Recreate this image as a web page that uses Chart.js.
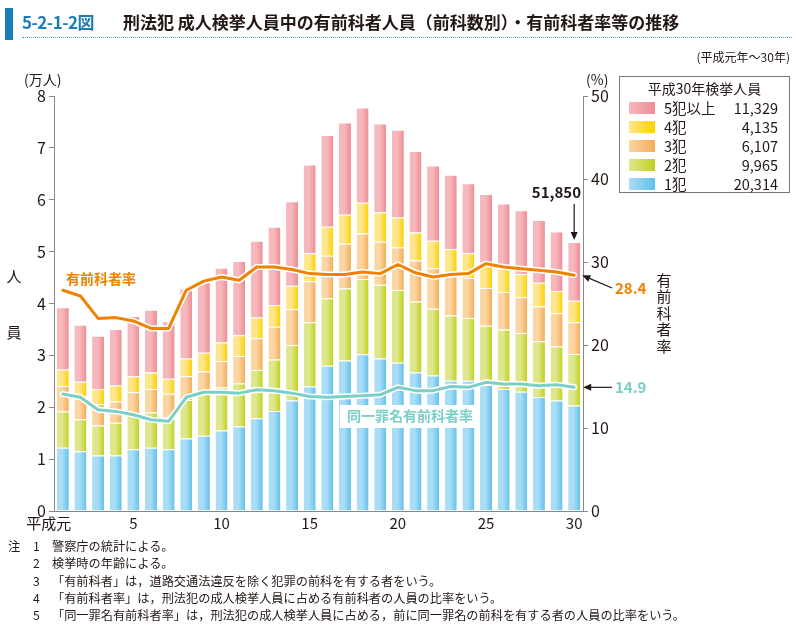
<!DOCTYPE html>
<html>
<head>
<meta charset="utf-8">
<script src="https://cdn.jsdelivr.net/npm/chart.js@4/dist/chart.umd.min.js"></script>
<style>
  body { margin: 0; background: #fff; font-family: "Noto Sans CJK JP", sans-serif; color: #231815; }
  #wrap { position: relative; width: 796px; height: 626px; overflow: hidden; }
  #c { position: absolute; left: 0; top: 0; }
  .abs { position: absolute; white-space: nowrap; }
  #bar { left: 5px; top: 8px; width: 8px; height: 32px; background: #1b7cb8; }
  #fig { left: 22px; top: 9px; font-size: 17px; font-weight: bold; color: #1b7cb8; letter-spacing: -0.5px; }
  #ttl { left: 123px; top: 9px; font-size: 17px; font-weight: bold; }
  #dots { left: 22px; top: 37px; width: 770px; border-top: 1px dotted #4aa3d4; }
  #period { right: 6px; top: 48px; font-size: 12px; }
  #legend { left: 619px; top: 76px; width: 169px; height: 115px; border: 1px solid #777; background: #fff; font-size: 14.5px; }
  #legend .t { position: absolute; left: 0; width: 169px; top: 1px; text-align: center; font-size: 14px; }
  #legend .row { position: absolute; left: 0; width: 169px; height: 20px; line-height: 20px; }
  #legend .sw { position: absolute; left: 9px; top: 4px; width: 26px; height: 12px; }
  #legend .lb { position: absolute; left: 44px; top: 0; }
  #legend .v { position: absolute; right: 11px; top: 0; }
  #notes { left: 8px; top: 538px; font-size: 12.2px; line-height: 17.3px; }
  #notes div { position: relative; padding-left: 44px; }
  #notes .n { position: absolute; left: 25px; }
  #notes .h { position: absolute; left: 0; }
</style>
</head>
<body>
<div id="wrap">
  <canvas id="c" width="796" height="626"></canvas>
  <div class="abs" id="bar"></div>
  <div class="abs" id="fig">5-2-1-2図</div>
  <div class="abs" id="ttl">刑法犯 成人検挙人員中の有前科者人員（前科数別）・有前科者率等の推移</div>
  <div class="abs" id="dots"></div>
  <div class="abs" id="period">(平成元年～30年)</div>
  <div class="abs" id="legend"></div>
  <div class="abs" id="notes">
    <div><span class="h">注</span><span class="n">1</span>警察庁の統計による。</div>
    <div><span class="n">2</span>検挙時の年齢による。</div>
    <div><span class="n">3</span>「有前科者」は，道路交通法違反を除く犯罪の前科を有する者をいう。</div>
    <div><span class="n">4</span>「有前科者率」は，刑法犯の成人検挙人員に占める有前科者の人員の比率をいう。</div>
    <div><span class="n">5</span>「同一罪名有前科者率」は，刑法犯の成人検挙人員に占める，前に同一罪名の前科を有する者の人員の比率をいう。</div>
  </div>
</div>
<script>
// 平成元年～30年
const years = ['平成元','2','3','4','5','6','7','8','9','10','11','12','13','14','15','16','17','18','19','20','21','22','23','24','25','26','27','28','29','30'];
const tickYears = ['平成元','5','10','15','20','25','30'];

// 前科数別 有前科者人員 (万人)
const zenka1 = [1.22,1.15,1.07,1.07,1.19,1.22,1.19,1.40,1.45,1.55,1.63,1.79,1.93,2.13,2.40,2.80,2.90,3.02,2.94,2.86,2.67,2.61,2.51,2.51,2.43,2.35,2.30,2.20,2.13,2.0314];
const zenka2 = [0.70,0.62,0.58,0.63,0.69,0.68,0.62,0.74,0.85,0.83,0.83,0.93,0.99,1.07,1.24,1.30,1.39,1.45,1.42,1.40,1.37,1.29,1.26,1.21,1.14,1.15,1.13,1.07,1.04,0.9965];
const zenka3 = [0.49,0.44,0.41,0.41,0.41,0.45,0.45,0.46,0.39,0.51,0.53,0.61,0.63,0.69,0.79,0.82,0.86,0.88,0.83,0.82,0.79,0.78,0.75,0.77,0.73,0.72,0.69,0.67,0.64,0.6107];
const zenka4 = [0.32,0.28,0.29,0.31,0.31,0.32,0.29,0.34,0.36,0.36,0.40,0.40,0.42,0.45,0.54,0.56,0.56,0.59,0.57,0.58,0.54,0.53,0.53,0.48,0.49,0.45,0.45,0.46,0.43,0.4135];
const zenka5 = [1.20,1.10,1.03,1.09,1.16,1.21,1.11,1.35,1.36,1.44,1.43,1.48,1.51,1.63,1.71,1.77,1.78,1.84,1.71,1.69,1.57,1.45,1.43,1.35,1.32,1.26,1.23,1.21,1.15,1.1329];

// 率 (%)
const yuzenkaRate = [26.6,25.9,23.2,23.3,22.9,22.0,22.0,26.6,27.7,28.2,27.8,29.4,29.4,29.1,28.6,28.5,28.5,28.8,28.6,29.7,28.7,28.2,28.5,28.6,29.8,29.4,29.2,29.0,28.8,28.4];
const douitsuRate = [14.1,13.7,12.2,12.0,11.6,11.0,10.8,13.7,14.3,14.3,14.2,14.6,14.5,14.2,13.8,13.7,13.8,13.9,14.0,14.9,14.5,14.5,15.0,14.9,15.5,15.3,15.3,15.1,15.2,14.9];

// 平成30年検挙人員 (凡例)
const legendNames = ['5犯以上','4犯','3犯','2犯','1犯'];
const legendValues = ['11,329','4,135','6,107','9,965','20,314'];
const total30 = '51,850';

const cols = {
  k1: ['#a9dcf5', '#62c1ec'],
  k2: ['#dfe68e', '#c0d11c'],
  k3: ['#fbd6a3', '#f4ac58'],
  k4: ['#ffe68c', '#fbd100'],
  k5: ['#f6b8bc', '#ee8c95']
};
const orange = '#ef8200';
const teal = '#7ccfc6';

// 凡例
const lg = document.getElementById('legend');
lg.innerHTML = '<div class="t">平成30年検挙人員</div>';
const lgCols = [cols.k5, cols.k4, cols.k3, cols.k2, cols.k1];
legendNames.forEach((n, i) => {
  const r = document.createElement('div');
  r.className = 'row';
  r.style.top = (21 + i * 19) + 'px';
  r.innerHTML = '<div class="sw" style="background:linear-gradient(to right,' + lgCols[i][0] + ',' + lgCols[i][1] + ')"></div>' +
    '<span class="lb">' + n + '</span><span class="v">' + legendValues[i] + '</span>';
  lg.appendChild(r);
});

function grad(c) {
  return (ctx) => {
    const chart = ctx.chart;
    const x = chart.scales.x;
    if (!x || !chart.chartArea || ctx.dataIndex === undefined) return c[1];
    const cx = x.getPixelForValue(ctx.dataIndex);
    const g = chart.ctx.createLinearGradient(cx - 6, 0, cx + 6, 0);
    g.addColorStop(0, c[0]);
    g.addColorStop(0.45, c[0]);
    g.addColorStop(1, c[1]);
    return g;
  };
}

function barSet(label, data, c) {
  return {
    type: 'bar', label: label, data: data, yAxisID: 'y', stack: 's', order: 3,
    backgroundColor: grad(c), borderColor: '#ffffff', borderWidth: {top: 1}, borderSkipped: 'bottom',
    categoryPercentage: 1, barPercentage: 0.68
  };
}

function lineSet(label, data, color, width, order) {
  return {
    type: 'line', label: label, data: data, yAxisID: 'y1', order: order,
    borderColor: color, borderWidth: width, pointRadius: 0, tension: 0, fill: false,
    borderJoinStyle: 'round', borderCapStyle: 'round'
  };
}

function arrow(c, x1, y1, x2, y2) {
  const a = Math.atan2(y2 - y1, x2 - x1);
  c.strokeStyle = '#231815';
  c.fillStyle = '#231815';
  c.lineWidth = 1.2;
  c.beginPath();
  c.moveTo(x1, y1);
  c.lineTo(x2 - 6 * Math.cos(a), y2 - 6 * Math.sin(a));
  c.stroke();
  c.beginPath();
  c.moveTo(x2, y2);
  c.lineTo(x2 - 8 * Math.cos(a) + 3.5 * Math.sin(a), y2 - 8 * Math.sin(a) - 3.5 * Math.cos(a));
  c.lineTo(x2 - 8 * Math.cos(a) - 3.5 * Math.sin(a), y2 - 8 * Math.sin(a) + 3.5 * Math.cos(a));
  c.closePath();
  c.fill();
}

const annotations = {
  id: 'annotations',
  afterDraw(chart) {
    const c = chart.ctx;
    const x = chart.scales.x, y = chart.scales.y, y1 = chart.scales.y1;
    const font = '"Noto Sans CJK JP", sans-serif';
    c.save();
    c.textBaseline = 'middle';

    // x軸ラベル
    c.font = '15px ' + font;
    c.fillStyle = '#231815';
    c.textAlign = 'center';
    tickYears.forEach((t) => {
      const i = years.indexOf(t);
      let px = x.getPixelForValue(i);
      if (i === 0) px -= 14;
      c.fillText(t, px, 523);
    });

    // 単位
    c.font = '14px ' + font;
    c.textAlign = 'left';
    c.fillText('(万人)', 24, 80);
    c.fillText('(%)', 586, 80);
    c.font = '15px ' + font;
    c.textAlign = 'center';
    c.fillText('人', 14, 276);
    c.fillText('員', 14, 332);
    '有前科者率'.split('').forEach((ch, i) => c.fillText(ch, 664, 280 + i * 16.5));

    // 系列ラベル
    c.font = 'bold 14px ' + font;
    c.fillStyle = orange;
    c.textAlign = 'left';
    c.fillText('有前科者率', 66, 279);

    c.fillStyle = '#ffffff';
    c.fillRect(340, 405, 140, 23);
    c.fillStyle = teal;
    c.textAlign = 'center';
    c.fillText('同一罪名有前科者率', 410, 416);

    // 平成30年の注記
    const last = years.length - 1;
    const lx = x.getPixelForValue(last);
    const tot = zenka1[last] + zenka2[last] + zenka3[last] + zenka4[last] + zenka5[last];
    c.font = 'bold 15px ' + font;
    c.fillStyle = '#231815';
    c.textAlign = 'right';
    c.fillText(total30, 581, 192);
    arrow(c, lx, 204, lx, y.getPixelForValue(tot) - 2);

    const yo = y1.getPixelForValue(yuzenkaRate[last]);
    arrow(c, 612, 288, lx + 8, yo);
    c.fillStyle = orange;
    c.textAlign = 'left';
    c.fillText(String(yuzenkaRate[last]), 615, 288);

    const yt = y1.getPixelForValue(douitsuRate[last]);
    arrow(c, 612, yt, lx + 9, yt);
    c.fillStyle = teal;
    c.fillText(String(douitsuRate[last]), 615, yt);
    c.restore();
  }
};

new Chart(document.getElementById('c'), {
  data: {
    labels: years,
    datasets: [
      barSet('1犯', zenka1, cols.k1),
      barSet('2犯', zenka2, cols.k2),
      barSet('3犯', zenka3, cols.k3),
      barSet('4犯', zenka4, cols.k4),
      barSet('5犯以上', zenka5, cols.k5),
      lineSet('_w1', yuzenkaRate, '#ffffff', 6, 2),
      lineSet('_w2', douitsuRate, '#ffffff', 6, 2),
      lineSet('有前科者率', yuzenkaRate, orange, 3, 1),
      lineSet('同一罪名有前科者率', douitsuRate, teal, 3, 1)
    ]
  },
  options: {
    responsive: false,
    animation: false,
    devicePixelRatio: 1,
    layout: { padding: { left: 0, right: 0, top: 96, bottom: 0 } },
    plugins: { legend: { display: false }, tooltip: { enabled: false } },
    scales: {
      x: {
        stacked: true,
        grid: { display: false },
        border: { display: true, color: '#888' },
        ticks: { display: false },
        afterFit: (s) => { s.height = 115; }
      },
      y: {
        stacked: true, position: 'left', min: 0, max: 8,
        grid: { drawOnChartArea: false, tickLength: 5, color: '#888' },
        border: { color: '#888' },
        ticks: { stepSize: 1, padding: 3, color: '#231815', font: { size: 16, family: '"Noto Sans CJK JP", sans-serif' } },
        afterFit: (s) => { s.width = 54; }
      },
      y1: {
        position: 'right', min: 0, max: 50,
        grid: { drawOnChartArea: false, tickLength: 5, color: '#888' },
        border: { color: '#888' },
        ticks: { stepSize: 10, padding: 3, color: '#231815', font: { size: 16, family: '"Noto Sans CJK JP", sans-serif' } },
        afterFit: (s) => { s.width = 213; }
      }
    }
  },
  plugins: [annotations]
});
</script>
</body>
</html>
